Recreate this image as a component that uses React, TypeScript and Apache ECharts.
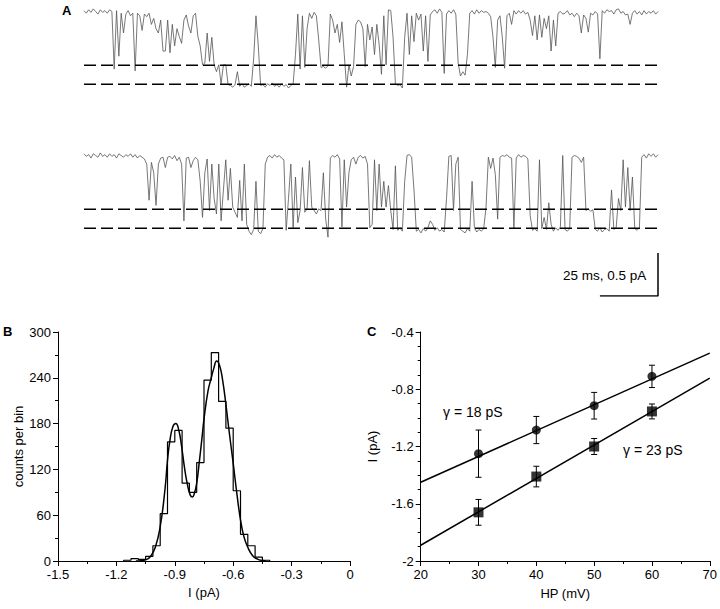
import React, { useEffect, useRef } from "react";
import * as echarts from "echarts";

// ---------- Panel A: single-channel records (pA), sampled every SAMPLE_MS ----------
const SAMPLE_MS = 1;
const traceTop = [
  0.01, -0.02, 0.02, -0.01, 0.03, 0.0, -0.03, 0.02, -0.01, 0.01,
  -0.02, 0.02, 0.0, -0.67, 0.01, -0.52, -0.02, -0.25, -0.03, 0.01,
  -0.05, -0.02, -0.69, -0.02, -0.05, -0.22, -0.03, -0.06, -0.02, -0.15,
  -0.08, -0.2, -0.25, -0.1, -0.46, -0.46, -0.1, -0.48, -0.15, -0.4,
  -0.2, -0.29, -0.37, -0.1, -0.04, -0.17, -0.25, -0.05, -0.02, -0.29,
  -0.4, -0.62, -0.6, -0.25, -0.58, -0.3, -0.62, -0.7, -0.62, -0.84,
  -0.62, -0.62, -0.85, -0.86, -0.88, -0.85, -0.7, -0.87, -0.84, -0.88,
  -0.86, -0.84, -0.87, -0.55, -0.05, -0.4, -0.86, -0.85, -0.88, -0.84,
  -0.86, -0.83, -0.87, -0.85, -0.88, -0.84, -0.87, -0.85, -0.89, -0.86,
  -0.84, -0.5, -0.03, -0.67, -0.05, -0.65, -0.2, -0.02, -0.08, -0.01,
  -0.05, -0.33, -0.65, -0.64, -0.66, -0.63, -0.03, -0.1, -0.25, -0.15,
  -0.36, -0.12, -0.5, -0.88, -0.62, -0.75, -0.64, -0.15, -0.1, -0.12,
  -0.2, -0.64, -0.15, -0.33, -0.18, -0.5, -0.15, -0.38, -0.73, -0.05,
  -0.62, 0.02, 0.01, -0.3, -0.84, -0.86, -0.85, -0.89, -0.3, -0.02,
  -0.5, -0.05, -0.35, -0.02, -0.1, -0.03, -0.46, -0.05, -0.58, -0.04,
  0.0, 0.02, -0.02, 0.03, -0.01, -0.72, -0.03, 0.01, -0.02, 0.02,
  -0.03, -0.6, -0.75, -0.7, -0.74, -0.5, -0.02, 0.01, -0.03, 0.02,
  -0.02, 0.01, -0.01, 0.0, -0.02, -0.06, -0.3, -0.65, -0.1, -0.05,
  -0.3, -0.66, -0.05, -0.02, -0.15, 0.01, -0.03, 0.01, -0.02, 0.01,
  -0.03, -0.01, -0.1, -0.28, -0.05, -0.33, -0.04, -0.3, -0.08, -0.2,
  -0.05, -0.46, -0.1, -0.4, -0.02, 0.0, -0.03, -0.02, 0.01, -0.04,
  -0.02, -0.06, -0.02, -0.05, -0.25, -0.04, -0.08, -0.24, -0.02, -0.04,
  0.0, -0.03, -0.55, 0.01, -0.02, 0.02, 0.0, 0.01, -0.03, 0.02,
  0.03, -0.02, 0.0, -0.04, -0.03, -0.15, -0.02, 0.01, -0.03, 0.0,
  -0.04, 0.01, -0.03, 0.0, -0.02, 0.01, -0.03, 0.0,
];
const traceBottom = [
  0.02, -0.01, 0.01, -0.03, 0.02, 0.0, -0.02, 0.03, -0.01, 0.01,
  -0.02, 0.02, -0.01, 0.01, -0.03, 0.02, 0.0, -0.02, 0.01, -0.01,
  0.02, -0.02, 0.01, -0.03, 0.0, -0.02, -0.04, -0.1, -0.52, -0.08,
  -0.2, -0.58, -0.1, -0.03, -0.02, -0.14, -0.02, -0.01, -0.04, 0.0,
  -0.06, -0.02, -0.1, -0.76, -0.03, -0.02, -0.14, -0.06, -0.02, -0.05,
  -0.3, -0.72, -0.2, -0.04, -0.64, -0.1, -0.5, -0.68, -0.1, -0.76,
  -0.4, -0.05, -0.52, -0.15, -0.6, -0.66, -0.72, -0.29, -0.76, -0.1,
  -0.8, -0.88, -0.92, -0.86, -0.3, -0.88, -0.91, -0.85, -0.1, -0.02,
  0.0, -0.03, 0.01, -0.02, 0.0, -0.03, -0.05, -0.87, -0.5, -0.1,
  -0.84, -0.25, -0.78, -0.64, -0.14, -0.66, -0.62, -0.06, -0.6, -0.64,
  -0.68, -0.62, -0.64, -0.2, -0.74, -0.95, -0.03, 0.0, -0.02, 0.01,
  -0.04, -0.83, -0.05, -0.6, -0.2, -0.05, -0.02, -0.1, -0.02, 0.0,
  -0.03, -0.01, -0.1, -0.84, -0.8, -0.05, -0.64, -0.1, -0.6, -0.3,
  -0.6, -0.35, -0.64, -0.86, -0.12, -0.87, -0.84, -0.88, -0.3, 0.0,
  0.01, -0.02, -0.4, -0.88, -0.86, -0.9, -0.85, -0.88, -0.84, -0.76,
  -0.8, -0.87, -0.84, -0.88, -0.86, -0.89, -0.5, -0.01, 0.0, -0.64,
  -0.1, -0.02, -0.86, -0.88, -0.9, -0.85, -0.88, -0.3, -0.84, -0.89,
  -0.86, -0.88, -0.85, -0.6, -0.02, -0.15, -0.03, -0.22, -0.74, -0.02,
  0.0, -0.01, 0.01, -0.02, -0.03, -0.85, -0.03, 0.01, -0.02, 0.0,
  -0.01, -0.04, -0.7, -0.87, -0.85, -0.88, -0.05, -0.85, -0.72, -0.86,
  -0.55, -0.8, -0.88, -0.84, -0.87, -0.83, 0.0, -0.86, -0.88, -0.85,
  -0.02, 0.0, -0.01, -0.03, -0.08, -0.02, -0.64, -0.62, -0.65, -0.63,
  -0.86, -0.88, -0.84, -0.89, -0.86, -0.85, -0.88, -0.4, -0.86, -0.84,
  -0.5, -0.64, -0.05, -0.6, -0.14, -0.64, -0.25, -0.85, -0.87, -0.84,
  -0.02, 0.01, -0.03, 0.02, -0.01, 0.02, -0.02, 0.01,
];
const openLevels = [-0.625, -0.845];
const SCALE_MS = 25;
const SCALE_PA = 0.5;
const scaleLabel = "25 ms, 0.5 pA";

// ---------- Panel B: amplitude histogram ----------
const histStart = -1.1625;
const histBinWidth = 0.0375;
const histCounts = [1, 3, 2, 6, 20, 62, 156, 171, 102, 90, 129, 237, 273, 209, 174, 92, 35, 20, 5, 1];
const fitCurrent = [
  -1.1, -1.075, -1.05, -1.025, -1.0, -0.975, -0.95, -0.9375, -0.925, -0.91,
  -0.895, -0.88, -0.865, -0.85, -0.835, -0.82, -0.81, -0.8, -0.7875, -0.775,
  -0.76, -0.75, -0.73, -0.7125, -0.7, -0.685, -0.67, -0.655, -0.6375, -0.62,
  -0.6, -0.58, -0.5625, -0.545, -0.525, -0.5, -0.475, -0.45, -0.43,
];
const fitCounts = [
  0, 0.3, 1.5, 6, 18, 45, 95, 132, 158, 176,
  180, 172, 150, 122, 100, 86, 84, 88, 102, 128,
  162, 186, 222, 240, 252, 262, 256, 238, 205, 168,
  128, 86, 54, 32, 18, 7, 2.5, 0.6, 0,
];
const histXTicks = { min: -1.5, max: 0, interval: 0.3 };
const histYTicks = { min: 0, max: 300, interval: 60 };

// ---------- Panel C: I-V relation ----------
const hp = [30, 40, 50, 60];
const circleMean = [-1.25, -1.085, -0.915, -0.71];
const circleErr = [0.165, 0.095, 0.093, 0.078];
const squareMean = [-1.66, -1.41, -1.2, -0.955];
const squareErr = [0.09, 0.072, 0.056, 0.052];
const fitHP = [20, 70];
const fit18 = [-1.45, -0.548];
const fit23 = [-1.89, -0.722];
const label18 = "γ = 18 pS";
const label23 = "γ = 23 pS";

const FONT = "'Liberation Sans', Arial, Helvetica, sans-serif";

function axisStyle(minorSplit: number) {
  return {
    axisLine: { show: true, onZero: false, lineStyle: { color: "#000", width: 1 } },
    axisTick: { show: true, inside: false, length: 5, lineStyle: { color: "#000", width: 1 } },
    minorTick: { show: true, splitNumber: minorSplit, length: 3, lineStyle: { color: "#000", width: 1 } },
    axisLabel: { color: "#000", fontSize: 13, fontFamily: FONT, margin: 7 },
    splitLine: { show: false },
    nameTextStyle: { color: "#000", fontSize: 13, fontFamily: FONT },
  };
}

export default function App() {
  const ref = useRef<HTMLDivElement>(null);
  useEffect(() => {
    if (!ref.current) return;
    const chart = echarts.init(ref.current, null, { renderer: "svg" });
    const traceLen = (traceTop.length - 1) * SAMPLE_MS;

    const histOutline: number[][] = [[histStart, 0]];
    histCounts.forEach((c, k) => {
      const x0 = histStart + k * histBinWidth;
      histOutline.push([x0, c], [x0 + histBinWidth, c]);
    });
    histOutline.push([histStart + histCounts.length * histBinWidth, 0]);

    const hiddenX = { type: "value", min: 0, max: traceLen, show: false };
    const errRender = (params: any, api: any) => {
      const x = api.value(0);
      const p1 = api.coord([x, api.value(1)]);
      const p2 = api.coord([x, api.value(2)]);
      const cap = 3;
      const st = { stroke: "#000", lineWidth: 1 };
      return {
        type: "group",
        children: [
          { type: "line", shape: { x1: p1[0], y1: p1[1], x2: p2[0], y2: p2[1] }, style: st },
          { type: "line", shape: { x1: p1[0] - cap, y1: p1[1], x2: p1[0] + cap, y2: p1[1] }, style: st },
          { type: "line", shape: { x1: p2[0] - cap, y1: p2[1], x2: p2[0] + cap, y2: p2[1] }, style: st },
        ],
      };
    };

    const levelSeries = (axisIdx: number) =>
      openLevels.map((L) => ({
        type: "line",
        xAxisIndex: axisIdx,
        yAxisIndex: axisIdx,
        showSymbol: false,
        data: [[0, L], [traceLen, L]],
        lineStyle: { color: "#000", width: 1.5, type: [12, 5] },
        z: 3,
      }));

    chart.setOption({
      animation: false,
      textStyle: { fontFamily: FONT },
      grid: [
        { left: 84, top: 2.9, width: 574, height: 94.6 },
        { left: 84, top: 146.9, width: 574, height: 94.6 },
        { left: 84, top: 253, width: 574, height: 43 },
        { left: 58, top: 332, width: 292, height: 229 },
        { left: 420.7, top: 332, width: 291.6, height: 229 },
      ],
      xAxis: [
        { ...hiddenX, gridIndex: 0 },
        { ...hiddenX, gridIndex: 1 },
        { ...hiddenX, gridIndex: 2 },
        {
          type: "value", gridIndex: 3, ...histXTicks,
          name: "I (pA)", nameLocation: "middle", nameGap: 25,
          ...axisStyle(2),
        },
        {
          type: "value", gridIndex: 4, min: 20, max: 70, interval: 10,
          name: "HP (mV)", nameLocation: "middle", nameGap: 26,
          ...axisStyle(2),
        },
      ],
      yAxis: [
        { type: "value", gridIndex: 0, min: -1.0, max: 0.1, show: false },
        { type: "value", gridIndex: 1, min: -1.0, max: 0.1, show: false },
        { type: "value", gridIndex: 2, min: 0, max: SCALE_PA, show: false },
        {
          type: "value", gridIndex: 3, ...histYTicks,
          name: "counts per bin", nameLocation: "middle", nameGap: 33,
          ...axisStyle(2),
        },
        {
          type: "value", gridIndex: 4, min: -2, max: -0.4, interval: 0.4,
          name: "I (pA)", nameLocation: "middle", nameGap: 42,
          ...axisStyle(4),
        },
      ],
      series: [
        {
          type: "line", xAxisIndex: 0, yAxisIndex: 0, showSymbol: false,
          data: traceTop.map((v, i) => [i * SAMPLE_MS, v]),
          lineStyle: { color: "#555", width: 0.8 },
        },
        ...levelSeries(0),
        {
          type: "line", xAxisIndex: 1, yAxisIndex: 1, showSymbol: false,
          data: traceBottom.map((v, i) => [i * SAMPLE_MS, v]),
          lineStyle: { color: "#555", width: 0.8 },
        },
        ...levelSeries(1),
        {
          type: "line", xAxisIndex: 2, yAxisIndex: 2, showSymbol: false,
          data: [[traceLen - SCALE_MS, 0], [traceLen, 0], [traceLen, SCALE_PA]],
          lineStyle: { color: "#000", width: 1.5 },
        },
        {
          type: "line", xAxisIndex: 3, yAxisIndex: 3, showSymbol: false,
          data: histOutline,
          lineStyle: { color: "#000", width: 1.2 },
        },
        {
          type: "line", xAxisIndex: 3, yAxisIndex: 3, showSymbol: false, smooth: true,
          data: fitCurrent.map((x, i) => [x, fitCounts[i]]),
          lineStyle: { color: "#000", width: 1.5 },
        },
        {
          type: "line", xAxisIndex: 4, yAxisIndex: 4, showSymbol: false,
          data: fitHP.map((x, i) => [x, fit18[i]]),
          lineStyle: { color: "#000", width: 1.5 },
        },
        {
          type: "line", xAxisIndex: 4, yAxisIndex: 4, showSymbol: false,
          data: fitHP.map((x, i) => [x, fit23[i]]),
          lineStyle: { color: "#000", width: 1.5 },
        },
        {
          type: "custom", xAxisIndex: 4, yAxisIndex: 4, renderItem: errRender,
          encode: { x: 0, y: [1, 2] },
          data: hp.map((x, i) => [x, circleMean[i] - circleErr[i], circleMean[i] + circleErr[i]]),
          z: 4,
        },
        {
          type: "custom", xAxisIndex: 4, yAxisIndex: 4, renderItem: errRender,
          encode: { x: 0, y: [1, 2] },
          data: hp.map((x, i) => [x, squareMean[i] - squareErr[i], squareMean[i] + squareErr[i]]),
          z: 4,
        },
        {
          type: "scatter", xAxisIndex: 4, yAxisIndex: 4, symbol: "circle", symbolSize: 9,
          data: hp.map((x, i) => [x, circleMean[i]]),
          itemStyle: { color: "#000" }, z: 5,
        },
        {
          type: "scatter", xAxisIndex: 4, yAxisIndex: 4, symbol: "rect", symbolSize: 10,
          data: hp.map((x, i) => [x, squareMean[i]]),
          itemStyle: { color: "#000" }, z: 5,
        },
      ],
      graphic: [
        { type: "text", left: 62, top: 4, style: { text: "A", font: `bold 13px ${FONT}`, fill: "#000" } },
        { type: "text", left: 3, top: 325, style: { text: "B", font: `bold 13px ${FONT}`, fill: "#000" } },
        { type: "text", left: 367, top: 325, style: { text: "C", font: `bold 13px ${FONT}`, fill: "#000" } },
        { type: "text", left: 563, top: 268, style: { text: scaleLabel, font: `13.5px ${FONT}`, fill: "#000" } },
        { type: "text", left: 443, top: 405, style: { text: label18, font: `14px ${FONT}`, fill: "#000" } },
        { type: "text", left: 623, top: 443, style: { text: label23, font: `14px ${FONT}`, fill: "#000" } },
      ],
    });
    return () => chart.dispose();
  }, []);
  return (
    <div
      ref={ref}
      style={{ position: "fixed", left: 0, top: 0, width: 720, height: 609, background: "#fff" }}
    />
  );
}
